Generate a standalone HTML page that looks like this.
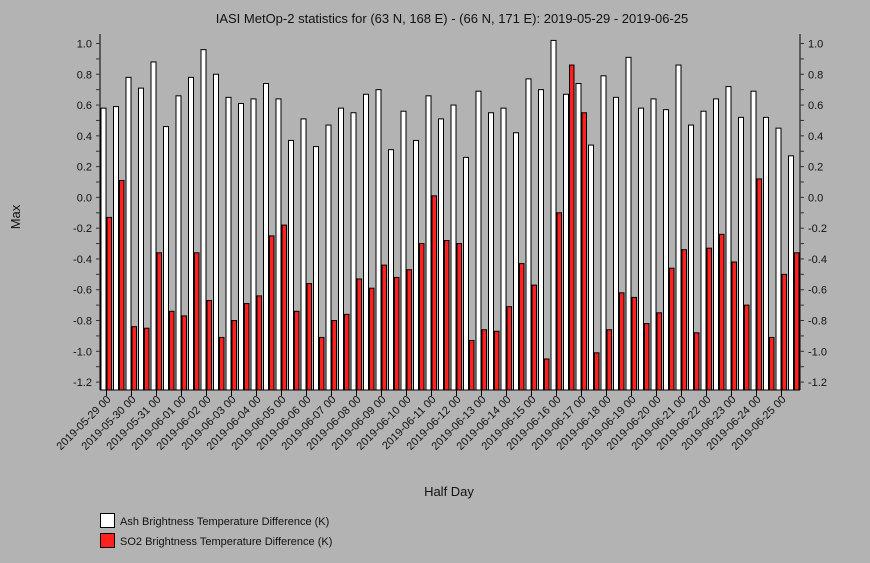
<!DOCTYPE html>
<html><head><meta charset="utf-8"><style>
body{margin:0;background:#b3b3b3;}
svg{display:block;font-family:"Liberation Sans",sans-serif;}
</style></head><body>
<svg id="chart" width="870" height="563" viewBox="0 0 870 563">
<rect width="870" height="563" fill="#b3b3b3"/>
<text x="452" y="23" text-anchor="middle" font-size="13" fill="#111">IASI MetOp-2 statistics for (63 N, 168 E) - (66 N, 171 E): 2019-05-29 - 2019-06-25</text>
<text transform="translate(20,217) rotate(-90)" text-anchor="middle" font-size="13" fill="#111">Max</text>
<text x="449" y="496" text-anchor="middle" font-size="13" fill="#111">Half Day</text>
<g id="bars"></g>
<g id="axes"></g>
<g>
<rect x="100.5" y="513.5" width="14" height="14" fill="#fff" stroke="#000"/>
<text x="120" y="525" font-size="11" fill="#111">Ash Brightness Temperature Difference (K)</text>
<rect x="100.5" y="533.5" width="14" height="14" fill="#ff2020" stroke="#000"/>
<text x="120" y="545" font-size="11" fill="#111">SO2 Brightness Temperature Difference (K)</text>
</g>
</svg>
<script>
const dayLabels=["2019-05-29 00","2019-05-30 00","2019-05-31 00","2019-06-01 00","2019-06-02 00","2019-06-03 00","2019-06-04 00","2019-06-05 00","2019-06-06 00","2019-06-07 00","2019-06-08 00","2019-06-09 00","2019-06-10 00","2019-06-11 00","2019-06-12 00","2019-06-13 00","2019-06-14 00","2019-06-15 00","2019-06-16 00","2019-06-17 00","2019-06-18 00","2019-06-19 00","2019-06-20 00","2019-06-21 00","2019-06-22 00","2019-06-23 00","2019-06-24 00","2019-06-25 00"];
const ashValues=[0.58,0.59,0.78,0.71,0.88,0.46,0.66,0.78,0.96,0.80,0.65,0.61,0.64,0.74,0.64,0.37,0.51,0.33,0.47,0.58,0.55,0.67,0.70,0.31,0.56,0.37,0.66,0.51,0.60,0.26,0.69,0.55,0.58,0.42,0.77,0.70,1.02,0.67,0.74,0.34,0.79,0.65,0.91,0.58,0.64,0.57,0.86,0.47,0.56,0.64,0.72,0.52,0.69,0.52,0.45,0.27];
const so2Values=[-0.13,0.11,-0.84,-0.85,-0.36,-0.74,-0.77,-0.36,-0.67,-0.91,-0.80,-0.69,-0.64,-0.25,-0.18,-0.74,-0.56,-0.91,-0.80,-0.76,-0.53,-0.59,-0.44,-0.52,-0.47,-0.30,0.01,-0.28,-0.30,-0.93,-0.86,-0.87,-0.71,-0.43,-0.57,-1.05,-0.10,0.86,0.55,-1.01,-0.86,-0.62,-0.65,-0.82,-0.75,-0.46,-0.34,-0.88,-0.33,-0.24,-0.42,-0.70,0.12,-0.91,-0.50,-0.36];
const yTicks=[1.0,0.8,0.6,0.4,0.2,0.0,-0.2,-0.4,-0.6,-0.8,-1.0,-1.2];
const NS="http://www.w3.org/2000/svg";
const L=100,R=800,T=34,B=390;
function y(v){return 197.4-v*153.9;}
function xc(i){return 106.5+i*12.5;}
function mk(t,a,p){const e=document.createElementNS(NS,t);for(const k in a)e.setAttribute(k,a[k]);p.appendChild(e);return e;}
const bars=document.getElementById('bars'),axes=document.getElementById('axes');
ashValues.forEach((v,i)=>{
 const b=mk('rect',{x:xc(i)-5.5,y:y(v),width:5,height:B-y(v),fill:'#fff',stroke:'#000','stroke-width':1},bars);
 
 
});
so2Values.forEach((v,i)=>{
 const b=mk('rect',{x:xc(i)+0.5,y:y(v),width:4.5,height:B-y(v),fill:'#ff2020',stroke:'#000','stroke-width':1},bars);
 
 
});
mk('line',{x1:L,y1:T,x2:L,y2:B,stroke:'#000'},axes);
mk('line',{x1:R,y1:T,x2:R,y2:B,stroke:'#000'},axes);
mk('line',{x1:L,y1:B,x2:R,y2:B,stroke:'#000'},axes);
for(let v=-1.2;v<=1.001;v+=0.1){
 const yy=y(v);
 mk('line',{x1:L-4,y1:yy,x2:L,y2:yy,stroke:'#333'},axes);
 mk('line',{x1:R,y1:yy,x2:R+4,y2:yy,stroke:'#333'},axes);
}
yTicks.forEach(v=>{
 const yy=y(v);
 const t=mk('text',{x:L-8,y:yy+4,'text-anchor':'end','font-size':11,fill:'#111'},axes);
 t.textContent=v.toFixed(1);
 
 
 const t2=mk('text',{x:R+8,y:yy+4,'font-size':11,fill:'#111'},axes);
 t2.textContent=v.toFixed(1);
 
 
});
dayLabels.forEach((s,d)=>{
 const xx=xc(d*2);
 mk('line',{x1:xx,y1:B,x2:xx,y2:B+6,stroke:'#000'},axes);
 const t=mk('text',{transform:`translate(${xx+5},${B+10}) rotate(-45)`,'text-anchor':'end','font-size':11,fill:'#111'},axes);
 t.textContent=s;
 
 
});
</script>
</body></html>
